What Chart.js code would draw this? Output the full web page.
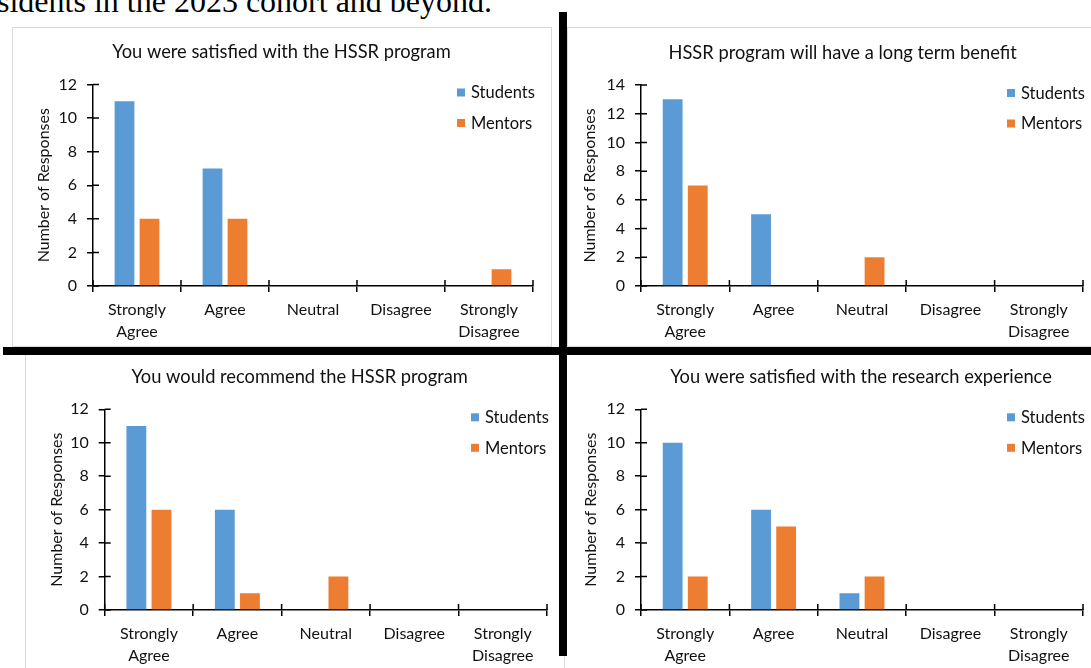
<!DOCTYPE html>
<html>
<head>
<meta charset="utf-8">
<script src="https://cdn.jsdelivr.net/npm/chart.js@4.4.1/dist/chart.umd.min.js"></script>
<style>
  html, body { margin: 0; padding: 0; background: #fff; }
  #page { position: relative; width: 1091px; height: 668px; overflow: hidden; background: #fff; }
  .lead { position: absolute; left: -3px; top: -15px; font-family: "Liberation Serif", "Times New Roman", serif;
          font-size: 32px; line-height: 1; white-space: nowrap; color: #000; }
  .frame { position: absolute; border: 1px solid #d9d9d9; box-sizing: border-box; }
  .panel { position: absolute; }
  .rule { position: absolute; background: #000; z-index: 5; }
</style>
</head>
<body>
<div id="page">
  <div class="lead">sidents in the 2023 cohort and beyond.</div>

  <div class="frame" style="left:12px;top:27px;width:540px;height:320px;"></div>
  <div class="frame" style="left:567px;top:27px;width:600px;height:320px;"></div>
  <div class="frame" style="left:25px;top:352px;width:540px;height:400px;"></div>

  <canvas id="c1" class="panel"></canvas>
  <canvas id="c2" class="panel"></canvas>
  <canvas id="c3" class="panel"></canvas>
  <canvas id="c4" class="panel"></canvas>

  <div class="rule" style="left:559px;top:12px;width:8px;height:644px;"></div>
  <div class="rule" style="left:3px;top:347px;width:1088px;height:8px;"></div>
</div>

<script>
// Survey answer categories (x axis)
const categories = [['Strongly', 'Agree'], 'Agree', 'Neutral', 'Disagree', ['Strongly', 'Disagree']];
const seriesNames = ['Students', 'Mentors'];
const seriesColors = ['#5B9BD5', '#ED7D31'];
const yAxisLabel = 'Number of Responses';

// Chart titles
const chartTitles = [
  'You were satisfied with the HSSR program',
  'HSSR program will have a long term benefit',
  'You would recommend the HSSR program',
  'You were satisfied with the research experience'
];

// Response counts per category
const satisfiedStudents = [11, 7, 0, 0, 0];
const satisfiedMentors  = [4, 4, 0, 0, 1];
const benefitStudents   = [13, 5, 0, 0, 0];
const benefitMentors    = [7, 0, 2, 0, 0];
const recommendStudents = [11, 6, 0, 0, 0];
const recommendMentors  = [6, 1, 2, 0, 0];
const researchStudents  = [10, 6, 1, 0, 0];
const researchMentors   = [2, 5, 2, 0, 0];

// Value-axis ranges and tick step
const yMaxima = [12, 14, 12, 12];
const yStep = 2;

const FONT = 'Lato, "Noto Sans", sans-serif';
const INK = '#111';
const AXIS = '#000';
const TITLE_SIZE = 18.3;
const TICK_SIZE = 16;
const LEGEND_SIZE = 16.5;

// Panel placement on the page: canvas box, plot area, title centre, axis-title x
const panels = [
  { id: 'c1', box: [12, 27, 539, 320],  plot: [93, 533, 84.5, 286],     titleX: 281.5, titleY: 52.5, yTitleX: 43.7 },
  { id: 'c2', box: [567, 27, 524, 320], plot: [641, 1083, 85, 286],     titleX: 842.6, titleY: 53,   yTitleX: 590 },
  { id: 'c3', box: [12, 356, 547, 312], plot: [104.7, 547, 409.3, 610], titleX: 299.6, titleY: 377.5, yTitleX: 56.4 },
  { id: 'c4', box: [567, 356, 524, 312], plot: [641, 1083, 409.3, 610], titleX: 861,   titleY: 377.5, yTitleX: 590.4 }
];
const panelData = [
  [satisfiedStudents, satisfiedMentors],
  [benefitStudents, benefitMentors],
  [recommendStudents, recommendMentors],
  [researchStudents, researchMentors]
];

// Centre the chart title over the whole chart frame rather than the canvas
const titleCentre = {
  id: 'titleCentre',
  afterLayout(chart, args, opts) {
    const t = chart.titleBlock;
    if (!t) return;
    const w = t.right - t.left;
    t.left = opts.x - w / 2;
    t.right = t.left + w;
  }
};

// Tick marks that cross the axis lines (inner half; outer half comes from grid ticks)
const crossTicks = {
  id: 'crossTicks',
  afterDraw(chart) {
    const { ctx, chartArea: a, scales: { x, y } } = chart;
    ctx.save();
    ctx.strokeStyle = AXIS;
    ctx.lineWidth = 1.5;
    ctx.beginPath();
    y.ticks.forEach(t => {
      const py = y.getPixelForValue(t.value);
      ctx.moveTo(a.left, py);
      ctx.lineTo(a.left + 6, py);
    });
    for (let i = 0; i <= x.ticks.length; i++) {
      const px = x.getPixelForValue(i - 0.5);
      ctx.moveTo(px, a.bottom);
      ctx.lineTo(px, a.bottom - 6);
    }
    ctx.stroke();
    ctx.restore();
  }
};

// Legend drawn inside the top-right corner of the plot area
const insideLegend = {
  id: 'insideLegend',
  afterDraw(chart) {
    const { ctx, chartArea: a } = chart;
    ctx.save();
    ctx.font = LEGEND_SIZE + 'px ' + FONT;
    ctx.textBaseline = 'middle';
    ctx.textAlign = 'left';
    chart.data.datasets.forEach((ds, i) => {
      const cy = a.top + 7.5 + i * 30.5;
      ctx.fillStyle = ds.backgroundColor;
      ctx.fillRect(a.right - 76, cy - 3.5, 8, 8);
      ctx.fillStyle = INK;
      ctx.fillText(ds.label, a.right - 62, cy + 1);
    });
    ctx.restore();
  }
};

function build(p, idx) {
  const [bx, by, bw, bh] = p.box;
  const [pl, pr, pt, pb] = p.plot;
  const canvas = document.getElementById(p.id);
  canvas.width = bw;
  canvas.height = bh;
  canvas.style.left = bx + 'px';
  canvas.style.top = by + 'px';

  const padRight = bw - (pr - bx);
  const yWidth = pl - bx;
  const xHeight = bh - (pb - by);
  const titleLH = TITLE_SIZE * 1.2;
  const titlePadTop = (p.titleY - by) - titleLH / 2;
  const titlePadBottom = (pt - by) - titlePadTop - titleLH;
  const yTitlePad = (p.yTitleX - bx) - TICK_SIZE * 1.2 / 2;

  const [students, mentors] = panelData[idx];
  const gridOpts = { display: true, drawOnChartArea: false, drawTicks: true, tickLength: 6, color: AXIS, lineWidth: 1.5 };

  return new Chart(canvas, {
    type: 'bar',
    data: {
      labels: categories,
      datasets: [
        { label: seriesNames[0], data: students, backgroundColor: seriesColors[0], categoryPercentage: 0.568, barPercentage: 0.79 },
        { label: seriesNames[1], data: mentors, backgroundColor: seriesColors[1], categoryPercentage: 0.568, barPercentage: 0.79 }
      ]
    },
    options: {
      responsive: false,
      animation: false,
      devicePixelRatio: 1,
      layout: { padding: { left: 0, right: padRight, top: 0, bottom: 0 } },
      plugins: {
        legend: { display: false },
        tooltip: { enabled: false },
        titleCentre: { x: p.titleX - bx },
        title: {
          display: true,
          text: chartTitles[idx],
          color: INK,
          font: { family: FONT, size: TITLE_SIZE, weight: 'normal', lineHeight: 1.2 },
          padding: { top: titlePadTop, bottom: titlePadBottom }
        }
      },
      scales: {
        x: {
          grid: Object.assign({ offset: true }, gridOpts),
          border: { display: true, color: AXIS, width: 1.5 },
          ticks: { color: INK, font: { family: FONT, size: TICK_SIZE, lineHeight: 1.36 }, padding: 7, maxRotation: 0, autoSkip: false },
          afterFit(s) { s.height = xHeight; }
        },
        y: {
          min: 0,
          max: yMaxima[idx],
          grid: gridOpts,
          border: { display: true, color: AXIS, width: 1.5 },
          ticks: { stepSize: yStep, color: INK, font: { family: FONT, size: TICK_SIZE }, padding: 10 },
          title: {
            display: true,
            text: yAxisLabel,
            color: INK,
            font: { family: FONT, size: TICK_SIZE, lineHeight: 1.2 },
            padding: { top: yTitlePad, bottom: 0 }
          },
          afterFit(s) { s.width = yWidth; }
        }
      }
    },
    plugins: [titleCentre, crossTicks, insideLegend]
  });
}

document.fonts.load('16px Lato').then(() => {
  panels.forEach(build);
});
</script>
</body>
</html>
